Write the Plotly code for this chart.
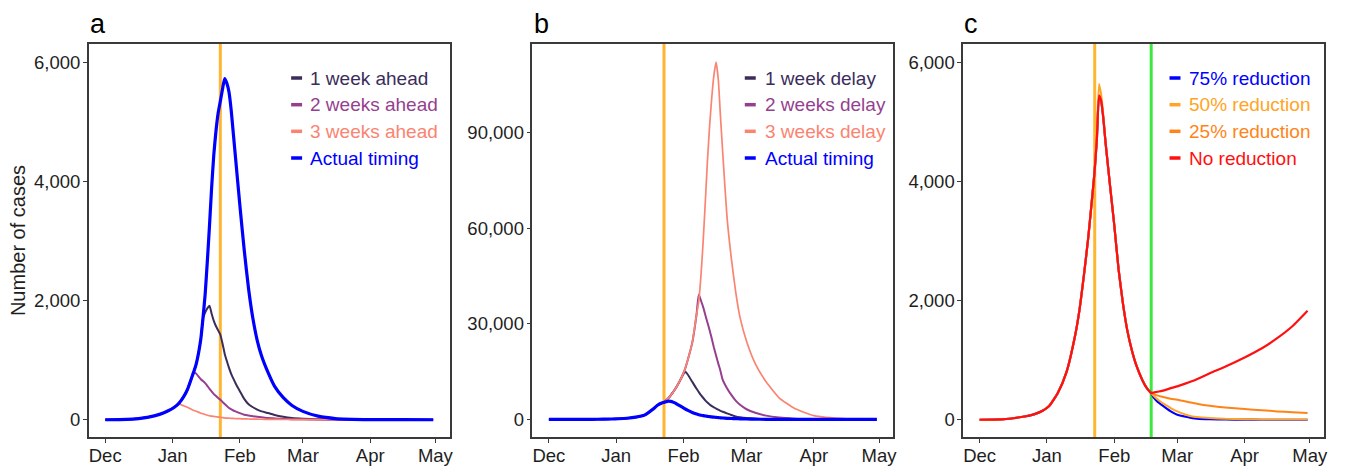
from __future__ import annotations

import plotly.graph_objects as go


# ---- panel a: lockdown brought forward -------------------------------------
A_DATES = [
    "2019-12-01", "2019-12-11", "2019-12-21", "2019-12-26", "2019-12-30",
    "2020-01-02", "2020-01-04", "2020-01-06", "2020-01-08", "2020-01-10", "2020-01-11",
    "2020-01-12", "2020-01-14", "2020-01-15", "2020-01-16", "2020-01-17", "2020-01-18",
    "2020-01-19", "2020-01-20", "2020-01-21", "2020-01-22", "2020-01-23", "2020-01-24",
    "2020-01-25", "2020-01-26", "2020-01-27", "2020-01-28", "2020-01-29", "2020-01-30",
    "2020-02-01", "2020-02-03", "2020-02-05", "2020-02-07", "2020-02-09", "2020-02-11",
    "2020-02-14", "2020-02-17", "2020-02-21", "2020-02-25",
    "2020-03-01", "2020-03-08", "2020-03-16", "2020-04-01", "2020-04-16", "2020-04-30",
]
A_ACTUAL = [
    0, 5, 45, 90, 150,
    215, 280, 380, 520, 726, 830, 950, 1350, 1700, 2100, 2650, 3250, 3900, 4450, 4850,
    5150, 5350, 5550, 5730, 5650, 5500, 5200, 4800, 4400,
    3600, 2850, 2200, 1700, 1330, 1070, 790, 560, 370, 240,
    140, 60, 20, 3, 1, 0,
]
A_1WK = [
    0, 5, 45, 90, 150,
    215, 280, 380, 520, 726, 830, 950, 1350, 1700, 1800, 1870, 1915, 1780, 1660, 1570,
    1500, 1430, 1280, 1110, 985, 870, 770, 690, 614,
    480, 350, 260, 210, 170, 140, 112, 80, 50, 30,
    18, 8, 3, 1, 0, 0,
]
A_2WK = [
    0, 5, 45, 90, 150,
    215, 280, 380, 520, 726, 799, 770, 680, 650, 614, 570, 520, 475, 430, 400,
    365, 335, 300, 265, 230, 196, 175, 155, 140,
    110, 84, 70, 60, 50, 42, 28, 22, 15, 10,
    6, 3, 1, 0, 0, 0,
]
A_3WK = [
    0, 5, 45, 90, 150,
    215, 263, 235, 205, 168, 155, 140, 110, 100, 88, 75, 67, 60, 55, 50,
    45, 40, 35, 30, 28, 26, 24, 22, 20,
    17, 14, 12, 10, 9, 8, 6, 5, 4, 3,
    2, 2, 1, 0, 0, 0,
]

# ---- panel b: lockdown delayed ---------------------------------------------
B_DATES = [
    "2019-12-01", "2019-12-11", "2019-12-21", "2019-12-26", "2019-12-30",
    "2020-01-02", "2020-01-06", "2020-01-10", "2020-01-14", "2020-01-18", "2020-01-20",
    "2020-01-22", "2020-01-23", "2020-01-24", "2020-01-25", "2020-01-26", "2020-01-27",
    "2020-01-28", "2020-01-29", "2020-01-30",
    "2020-02-01", "2020-02-02", "2020-02-03", "2020-02-05", "2020-02-07", "2020-02-08",
    "2020-02-09", "2020-02-10", "2020-02-11", "2020-02-12", "2020-02-13", "2020-02-14",
    "2020-02-15", "2020-02-16", "2020-02-17", "2020-02-18", "2020-02-19", "2020-02-21",
    "2020-02-23", "2020-02-25", "2020-02-27",
    "2020-03-01", "2020-03-05", "2020-03-10", "2020-03-16", "2020-03-23", "2020-04-01",
    "2020-04-16", "2020-04-30",
]
B_ACTUAL = [
    0, 5, 45, 90, 150,
    215, 380, 726, 1350, 3250, 4450, 5150, 5350, 5550, 5730, 5650, 5500, 5200, 4800, 4400,
    3600, 3200, 2850, 2200, 1700, 1500, 1330, 1200, 1070, 970, 880, 790, 720, 650, 560,
    510, 460, 370, 300, 240, 195,
    140, 90, 50, 20, 8, 3, 1, 0,
]
B_1WK = [
    0, 5, 45, 90, 150,
    215, 380, 726, 1350, 3250, 4450, 5150, 5400, 6000, 6700, 7500, 8400, 9400, 10500, 11700,
    14300, 14850, 14000, 11800, 9600, 8600, 7600, 6800, 6000, 5300, 4700, 4200, 3800, 3400,
    3050, 2700, 2400, 1900, 1400, 950, 700,
    450, 250, 120, 50, 20, 5, 0, 0,
]
B_2WK = [
    0, 5, 45, 90, 150,
    215, 380, 726, 1350, 3250, 4450, 5150, 5400, 6000, 6700, 7500, 8400, 9400, 10500, 11700,
    14600, 16500, 18800, 24000, 33000, 39200, 37300, 35300, 32800, 30400, 28000, 25300,
    22500, 20000, 17500, 15200, 12500, 9800, 7700, 5900, 4600,
    3200, 2100, 1200, 600, 250, 80, 10, 0,
]
B_3WK = [
    0, 5, 45, 90, 150,
    215, 380, 726, 1350, 3250, 4450, 5150, 5400, 6000, 6700, 7500, 8400, 9400, 10500, 11700,
    14600, 16500, 18800, 24000, 33000, 37000, 45000, 55500, 68000, 81000, 92000, 101000,
    108000, 112000, 106500, 95000, 84000, 63500, 50500, 40000, 32000,
    24500, 17500, 11800, 6800, 3500, 1200, 200, 30,
]

# ---- panel c: contact reduction after relaxation ----------------------------
C_DATES = [
    "2019-12-01", "2019-12-11", "2019-12-21", "2019-12-26", "2019-12-30",
    "2020-01-02", "2020-01-06", "2020-01-10", "2020-01-14", "2020-01-16", "2020-01-18",
    "2020-01-20", "2020-01-22", "2020-01-23", "2020-01-24", "2020-01-25", "2020-01-26",
    "2020-01-27", "2020-01-28", "2020-01-30",
    "2020-02-01", "2020-02-03", "2020-02-05", "2020-02-07", "2020-02-09", "2020-02-11",
    "2020-02-14", "2020-02-16", "2020-02-18",
    "2020-02-19", "2020-02-21", "2020-02-23", "2020-02-25", "2020-02-27",
    "2020-03-01", "2020-03-05", "2020-03-08", "2020-03-10", "2020-03-16", "2020-03-23",
    "2020-04-01", "2020-04-09", "2020-04-16", "2020-04-23", "2020-04-30",
]
C_BEFORE = [
    0, 5, 50, 90, 150,
    230, 450, 800, 1420, 1850, 2420, 3050, 3800, 4200, 4720, 5444, 5350, 5050, 4650, 3950,
    3270, 2520, 1950, 1500, 1180, 930, 660, 530, 447,
]
C_BEFORE_50 = [
    0, 5, 50, 90, 150,
    230, 450, 800, 1420, 1850, 2420, 3050, 3800, 4200, 4850, 5640, 5450, 5100, 4650, 3950,
    3270, 2520, 1950, 1500, 1180, 930, 660, 530, 447,
]
C_AFTER_75 = [380, 300, 245, 190, 140, 84, 50, 28, 20, 10, 4, 1, 0, 0, 0, 0]
C_AFTER_50 = [405, 340, 285, 240, 196, 140, 84, 55, 45, 28, 15, 8, 5, 4, 3, 2]
C_AFTER_25 = [430, 405, 385, 368, 352, 335, 305, 285, 270, 235, 205, 179, 160, 140, 125, 112]
C_AFTER_NONE = [455, 470, 485, 505, 530, 560, 610, 650, 680, 782, 890, 1045, 1200, 1369, 1570, 1830]

LOCKDOWN_DATE = "2020-01-23"
RELAX_DATE = "2020-02-18"
SMALL_TICKS = [0, 2000, 4000, 6000]
LARGE_TICKS = [0, 30000, 60000, 90000]
PANEL_LABELS = ["a", "b", "c"]

FONT = "Liberation Sans, Arial, sans-serif"
INK = "#1e1e1e"
FRAME = "#3a3a3a"
ORANGE_LINE = "#ffb531"
GREEN_LINE = "#3fe83f"

W, H = 1346, 466
PANEL_LEFT = [89, 534, 966]
PANEL_W = 362
PLOT_TOP, PLOT_BOTTOM = 44, 437
X_RANGE = ["2019-11-23 10:00", "2020-05-07 14:00"]


def _ref(i: int) -> tuple[str, str]:
    return ("x", "y") if i == 0 else (f"x{i + 1}", f"y{i + 1}")


def _line(fig: go.Figure, i: int, dates, values, color: str, width: float, name: str) -> None:
    xr, yr = _ref(i)
    fig.add_trace(
        go.Scatter(
            x=dates,
            y=values,
            mode="lines",
            line=dict(color=color, width=width, shape="spline", smoothing=0.5),
            name=name,
            xaxis=xr,
            yaxis=yr,
            showlegend=False,
            hovertemplate=name + "<br>%{x|%d %b %Y}: %{y:,.0f}<extra></extra>",
        )
    )


def _vline(i: int, date: str, color: str) -> dict:
    xr, yr = _ref(i)
    return dict(
        type="line", xref=xr, yref=f"{yr} domain", x0=date, x1=date, y0=0, y1=1,
        line=dict(color=color, width=3), layer="below",
    )


def _legend(i: int, entries, key_px: tuple[float, float], text_px: float):
    xr, yr = _ref(i)
    left = PANEL_LEFT[i]
    rows = [78, 104.7, 131.3, 158]
    shapes, notes = [], []
    for (label, color), py in zip(entries, rows):
        yd = (PLOT_BOTTOM - py) / (PLOT_BOTTOM - PLOT_TOP)
        shapes.append(dict(
            type="line", xref=f"{xr} domain", yref=f"{yr} domain",
            x0=(key_px[0] - left) / PANEL_W, x1=(key_px[1] - left) / PANEL_W, y0=yd, y1=yd,
            line=dict(color=color, width=3.5),
        ))
        notes.append(dict(
            text=label, xref=f"{xr} domain", yref=f"{yr} domain",
            x=(text_px - left) / PANEL_W, y=yd, xanchor="left", yanchor="middle",
            showarrow=False, font=dict(size=19, color=color, family=FONT),
        ))
    return shapes, notes


fig = go.Figure()

a_entries = [("1 week ahead", "#3b2d5b"), ("2 weeks ahead", "#963f8f"),
             ("3 weeks ahead", "#fa8471"), ("Actual timing", "#0000ff")]
_line(fig, 0, A_DATES, A_1WK, a_entries[0][1], 2.0, a_entries[0][0])
_line(fig, 0, A_DATES, A_2WK, a_entries[1][1], 2.0, a_entries[1][0])
_line(fig, 0, A_DATES, A_3WK, a_entries[2][1], 1.7, a_entries[2][0])
_line(fig, 0, A_DATES, A_ACTUAL, a_entries[3][1], 3.2, a_entries[3][0])

b_entries = [("1 week delay", "#3b2d5b"), ("2 weeks delay", "#963f8f"),
             ("3 weeks delay", "#fa8471"), ("Actual timing", "#0000ff")]
_line(fig, 1, B_DATES, B_1WK, b_entries[0][1], 2.0, b_entries[0][0])
_line(fig, 1, B_DATES, B_2WK, b_entries[1][1], 2.0, b_entries[1][0])
_line(fig, 1, B_DATES, B_3WK, b_entries[2][1], 1.7, b_entries[2][0])
_line(fig, 1, B_DATES, B_ACTUAL, b_entries[3][1], 3.2, b_entries[3][0])

c_entries = [("75% reduction", "#0000ff"), ("50% reduction", "#ffa424"),
             ("25% reduction", "#ff8417"), ("No reduction", "#ff1010")]
_line(fig, 2, C_DATES, C_BEFORE + C_AFTER_75, c_entries[0][1], 2.2, c_entries[0][0])
_line(fig, 2, C_DATES, C_BEFORE_50 + C_AFTER_50, c_entries[1][1], 2.0, c_entries[1][0])
_line(fig, 2, C_DATES, C_BEFORE + C_AFTER_25, c_entries[2][1], 2.0, c_entries[2][0])
_line(fig, 2, C_DATES, C_BEFORE + C_AFTER_NONE, c_entries[3][1], 2.2, c_entries[3][0])

shapes = [_vline(0, LOCKDOWN_DATE, ORANGE_LINE), _vline(1, LOCKDOWN_DATE, ORANGE_LINE),
          _vline(2, LOCKDOWN_DATE, ORANGE_LINE), _vline(2, RELAX_DATE, GREEN_LINE)]
annotations = []
for i, (entries, key_px, text_px) in enumerate([
    (a_entries, (292, 303), 309),
    (b_entries, (747, 758), 765),
    (c_entries, (1173, 1184), 1191),
]):
    s, n = _legend(i, entries, key_px, text_px)
    shapes += s
    annotations += n

for i, label in enumerate(PANEL_LABELS):
    xr, yr = _ref(i)
    annotations.append(dict(
        text=label, xref=f"{xr} domain", yref=f"{yr} domain", x=-0.002, y=1.05,
        xanchor="left", yanchor="middle", showarrow=False,
        font=dict(size=27, color="#000000", family=FONT),
    ))

axis_common = dict(
    showline=True, mirror=True, linecolor=FRAME, linewidth=1.5,
    ticks="outside", ticklen=4, tickwidth=1.2, tickcolor=FRAME,
    showgrid=False, zeroline=False, fixedrange=True,
    tickfont=dict(size=18.5, color=INK, family=FONT),
)
layout = dict(
    paper_bgcolor="white",
    plot_bgcolor="white",
    margin=dict(l=0, r=0, t=0, b=0),
    width=W,
    height=H,
    showlegend=False,
    font=dict(family=FONT, color=INK),
    shapes=shapes,
    annotations=annotations,
)
y_dom = [(H - PLOT_BOTTOM) / H, (H - PLOT_TOP) / H]
for i in range(3):
    xr, yr = _ref(i)
    xkey = "xaxis" if i == 0 else f"xaxis{i + 1}"
    ykey = "yaxis" if i == 0 else f"yaxis{i + 1}"
    layout[xkey] = dict(
        axis_common,
        type="date",
        domain=[PANEL_LEFT[i] / W, (PANEL_LEFT[i] + PANEL_W) / W],
        range=X_RANGE,
        tick0="2019-12-01",
        dtick="M1",
        tickformat="%b",
        ticklabelstandoff=-3,
        anchor=yr,
    )
    big = i == 1
    layout[ykey] = dict(
        axis_common,
        domain=y_dom,
        range=[-5500, 117700] if big else [-290, 6310],
        tickvals=LARGE_TICKS if big else SMALL_TICKS,
        tickformat=",",
        ticklabelstandoff=-1,
        anchor=xr,
    )
layout["yaxis"]["title"] = dict(text="Number of cases", standoff=3,
                                font=dict(size=20, color=INK, family=FONT))

fig.update_layout(**layout)
fig.write_html(
    "out.html",
    config={"displayModeBar": False},
    post_script="document.body.style.margin='0';document.body.style.overflow='hidden';",
)
